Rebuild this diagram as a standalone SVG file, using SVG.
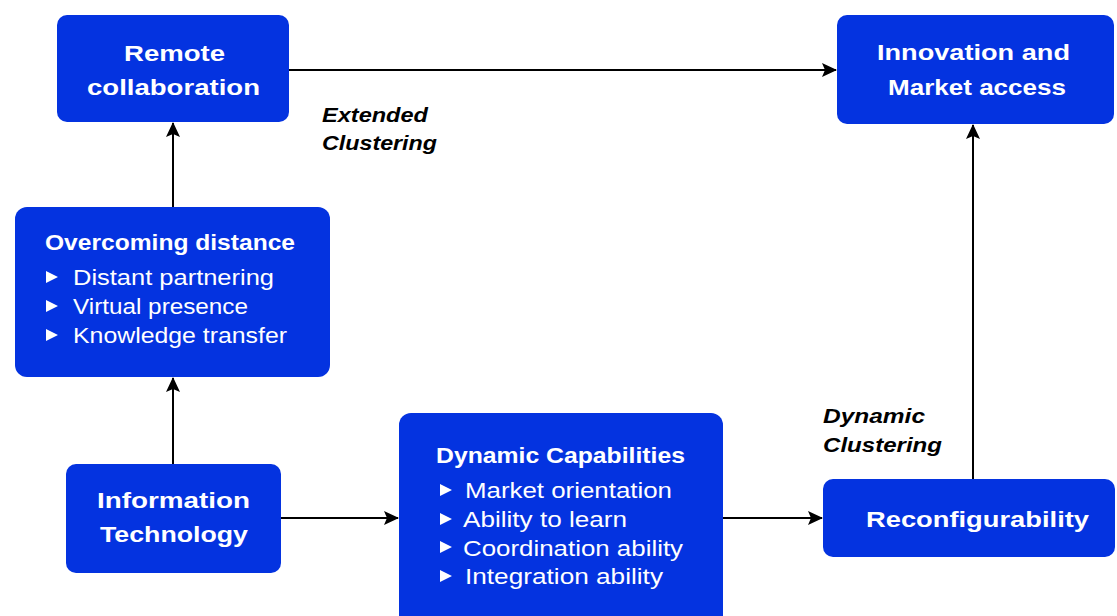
<svg xmlns="http://www.w3.org/2000/svg" width="1117" height="616" viewBox="0 0 1117 616">
<defs>
<marker id="arr" markerUnits="userSpaceOnUse" markerWidth="16" markerHeight="14" refX="14" refY="7" orient="auto">
<path d="M0,0 L15,7 L0,14 L3,7 z" fill="#000"/>
</marker>
<style>
.box{fill:#0433E0;}
.t{font-family:"Liberation Sans",Arial,sans-serif;fill:#fff;font-size:22px;}
.b{font-weight:bold;}
.lbl{font-family:"Liberation Sans",Arial,sans-serif;font-size:21px;font-weight:bold;font-style:italic;fill:#000;}
.bul{fill:#fff;}
.c{fill:none;stroke:#000;stroke-width:2;marker-end:url(#arr);}
</style>
</defs>
<rect width="1117" height="616" fill="#fff"/>
<g id="connectors">
<path class="c" d="M289,70 H836"/>
<path class="c" d="M173,207 V123"/>
<path class="c" d="M173,464 V378"/>
<path class="c" d="M281,518 H398"/>
<path class="c" d="M723,518 H822"/>
<path class="c" d="M973,479 V125"/>
</g>
<g id="remote">
<rect class="box" x="57" y="15" width="232" height="107" rx="10"/>
<text class="t b" x="124" y="61" textLength="101" lengthAdjust="spacingAndGlyphs">Remote</text>
<text class="t b" x="87" y="95" textLength="173" lengthAdjust="spacingAndGlyphs">collaboration</text>
</g>
<g id="innovation">
<rect class="box" x="837" y="15" width="277" height="109" rx="10"/>
<text class="t b" x="877" y="60" textLength="193" lengthAdjust="spacingAndGlyphs">Innovation and</text>
<text class="t b" x="888" y="95" textLength="178" lengthAdjust="spacingAndGlyphs">Market access</text>
</g>
<g id="overcoming">
<rect class="box" x="15" y="207" width="315" height="170" rx="12"/>
<text class="t b" x="45" y="250" textLength="250" lengthAdjust="spacingAndGlyphs">Overcoming distance</text>
<path class="bul" d="M46,271 L58,277 L46,283 z M46,300 L58,306 L46,312 z M46,329 L58,335 L46,341 z"/>
<text class="t" x="73" y="285" textLength="201" lengthAdjust="spacingAndGlyphs">Distant partnering</text>
<text class="t" x="73" y="314" textLength="175" lengthAdjust="spacingAndGlyphs">Virtual presence</text>
<text class="t" x="73" y="343" textLength="214" lengthAdjust="spacingAndGlyphs">Knowledge transfer</text>
</g>
<g id="it">
<rect class="box" x="66" y="464" width="215" height="109" rx="10"/>
<text class="t b" x="97" y="508" textLength="153" lengthAdjust="spacingAndGlyphs">Information</text>
<text class="t b" x="100" y="542" textLength="148" lengthAdjust="spacingAndGlyphs">Technology</text>
</g>
<g id="dynamic">
<rect class="box" x="399" y="413" width="324" height="215" rx="12"/>
<text class="t b" x="436" y="463" textLength="249" lengthAdjust="spacingAndGlyphs">Dynamic Capabilities</text>
<path class="bul" d="M440,484 L452,490 L440,496 z M440,513 L452,519 L440,525 z M440,541 L452,547 L440,553 z M440,570 L452,576 L440,582 z"/>
<text class="t" x="465" y="498" textLength="207" lengthAdjust="spacingAndGlyphs">Market orientation</text>
<text class="t" x="463" y="527" textLength="164" lengthAdjust="spacingAndGlyphs">Ability to learn</text>
<text class="t" x="463" y="556" textLength="220" lengthAdjust="spacingAndGlyphs">Coordination ability</text>
<text class="t" x="465" y="584" textLength="198" lengthAdjust="spacingAndGlyphs">Integration ability</text>
</g>
<g id="reconf">
<rect class="box" x="823" y="479" width="292" height="78" rx="10"/>
<text class="t b" x="866" y="527" textLength="223" lengthAdjust="spacingAndGlyphs">Reconfigurability</text>
</g>
<g id="labels">
<text class="lbl" x="322" y="122" textLength="106" lengthAdjust="spacingAndGlyphs">Extended</text>
<text class="lbl" x="322" y="150" textLength="115" lengthAdjust="spacingAndGlyphs">Clustering</text>
<text class="lbl" x="823" y="423" textLength="102" lengthAdjust="spacingAndGlyphs">Dynamic</text>
<text class="lbl" x="823" y="452" textLength="119" lengthAdjust="spacingAndGlyphs">Clustering</text>
</g>
</svg>
